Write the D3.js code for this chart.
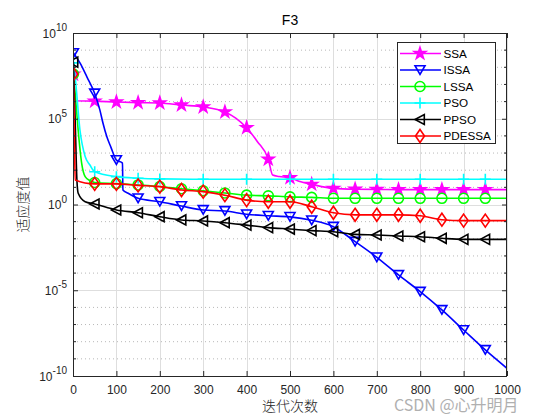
<!DOCTYPE html>
<html><head><meta charset="utf-8">
<script src="https://cdn.jsdelivr.net/npm/d3@7"></script>
<style>body{margin:0;background:#fff}svg{display:block}</style>
</head><body><svg id="c" width="560" height="420"></svg>
<script>
// ---- data (iteration, fitness) ----
const title = "F3";
const xLabel = "迭代次数";
const yLabel = "适应度值";
const seriesNames = ["SSA","ISSA","LSSA","PSO","PPSO","PDESSA"];
const xTickValues = [0,100,200,300,400,500,600,700,800,900,1000];
const yTickValues = [1e-10,1e-5,1,1e5,1e10];
const yTickExp = ["-10","-5","0","5","10"];
const markerIters = [1,50,100,150,200,250,300,350,400,450,500,550,600,650,700,750,800,850,900,950];

const ssaIter = [1,3,50,100,150,200,250,300,350,375,400,425,450,460,475,500,525,550,600,650,700,750,800,850,900,950,1000];
const ssaVal  = [4.0e7,1.12e6,1.07e6,9.5e5,8.7e5,8.3e5,6.3e5,4.9e5,2.5e5,1.1e5,3.0e4,4.6e3,440,52,43,36,21,15,8.7,7.8,7.6,7.4,7.4,7.4,7.4,7.4,7.4];

const issaIter = [1,16,32,50,62,69,78,87,100,114,115,127,150,200,250,300,350,400,450,500,550,600,650,700,750,800,850,900,950,1000];
const issaVal  = [6.8e8,1.8e8,2.8e7,3.0e6,3.2e5,5.6e4,8.9e3,2.3e3,390,260,7.1,4.5,2.3,1.45,0.81,0.48,0.42,0.27,0.22,0.19,0.12,0.051,6.8e-3,8.3e-4,7.8e-5,8.3e-6,7.1e-7,4.8e-8,3.3e-9,2.8e-10];

const lssaIter = [1,5,12,20,28,39,50,100,150,200,250,300,350,400,450,500,550,600,650,700,750,800,850,900,950,1000];
const lssaVal  = [4.0e7,3.0e6,2.0e4,250,42,25,19,16.6,13.8,11.2,8.3,6.3,4.7,3.5,3.2,2.8,2.6,2.3,2.3,2.3,2.3,2.3,2.3,2.3,2.3,2.3];

const psoIter = [1,5,16,28,39,50,100,150,200,300,400,500,600,700,800,900,950,1000];
const psoVal  = [1.8e8,2.8e7,2.2e4,630,200,81,42,34,31,29.5,29.5,29.5,29.5,29.5,29.5,29.5,29.5,29.5];

const ppsoIter = [1,5,9,12,28,50,100,150,200,250,300,350,400,450,500,550,600,650,700,750,800,850,900,950,1000];
const ppsoVal  = [2.0e8,8.5e4,27,4.5,1.45,1.07,0.48,0.33,0.195,0.126,0.11,0.087,0.063,0.045,0.037,0.030,0.026,0.018,0.0166,0.0145,0.0132,0.0107,0.0093,0.0093,0.0093];

const pdessaIter = [1,3,5,50,100,150,200,250,300,350,400,450,500,550,600,650,700,750,800,850,900,950,1000];
const pdessaVal  = [4.0e7,2.2e4,27,16,16,13,11,7.0,5.6,3.5,1.8,1.45,1.45,0.74,0.33,0.25,0.25,0.25,0.22,0.13,0.115,0.115,0.115];

const seriesColors = ["#ff00ff","#0000ff","#00ff00","#00ffff","#000000","#ff0000"];
const seriesMarkers = ["star","tri-down","circle","plus","tri-left","diamond"];
const seriesData = [[ssaIter,ssaVal],[issaIter,issaVal],[lssaIter,lssaVal],[psoIter,psoVal],[ppsoIter,ppsoVal],[pdessaIter,pdessaVal]];

// ---- layout ----
const L=73,R=507,T=33,B=376;
const svg = d3.select("#c");
const x = d3.scaleLinear().domain([0,1000]).range([L,R]);
const y = d3.scaleLog().domain([1e-10,1e10]).range([B,T]);
const axisColor = "#262626";
const font = "'Liberation Sans', Arial, Helvetica, sans-serif";
const cjk = "'Noto Sans CJK SC', sans-serif";

// grid
const grid = svg.append("g");
const minorDec = d3.range(-10,11).filter(e=>e%5!==0).map(e=>Math.pow(10,e));
grid.selectAll(".mg").data(minorDec).join("line")
  .attr("x1",L).attr("x2",R).attr("y1",d=>y(d)).attr("y2",d=>y(d))
  .attr("stroke","#b8b8b8").attr("stroke-width",1).attr("stroke-dasharray","1,3");
grid.selectAll(".gy").data(yTickValues).join("line")
  .attr("x1",L).attr("x2",R).attr("y1",d=>Math.round(y(d))+0.5).attr("y2",d=>Math.round(y(d))+0.5)
  .attr("stroke","#dedede").attr("stroke-width",1);
grid.selectAll(".gx").data(xTickValues).join("line")
  .attr("x1",d=>Math.round(x(d))+0.5).attr("x2",d=>Math.round(x(d))+0.5).attr("y1",T).attr("y2",B)
  .attr("stroke","#dedede").attr("stroke-width",1);

// clip
svg.append("clipPath").attr("id","clip").append("rect").attr("x",L).attr("y",T).attr("width",R-L).attr("height",B-T);

function markerPath(type){
  switch(type){
    case "star": return d3.symbol(d3.symbolStar, 42)();
    case "tri-down": return "M-5,-4.3L5,-4.3L0,4.3Z";
    case "circle": return d3.symbol(d3.symbolCircle, Math.PI*25)();
    case "plus": return "M-5.5,0H5.5M0,-5.5V5.5";
    case "tri-left": return "M-5,0L4.3,-5L4.3,5Z";
    case "diamond": return "M0,-6.5L4.5,0L0,6.5L-4.5,0Z";
  }
}

const line = d3.line().x(d=>x(d[0])).y(d=>y(d[1])).curve(d3.curveMonotoneX);
const plot = svg.append("g").attr("clip-path","url(#clip)");
seriesData.forEach(([it,val],i)=>{
  const pts = it.map((t,k)=>[t,val[k]]);
  const g = plot.append("g");
  g.append("path").attr("d",line(pts)).attr("fill","none")
    .attr("stroke",seriesColors[i]).attr("stroke-width",1.6).attr("stroke-linejoin","round");
  const mk = pts.filter(p=>markerIters.includes(p[0]));
  g.selectAll("path.m").data(mk).join("path").attr("class","m")
    .attr("transform",d=>`translate(${x(d[0])},${y(d[1])})`)
    .attr("d",markerPath(seriesMarkers[i]))
    .attr("fill",seriesMarkers[i]==="star"?seriesColors[i]:"none")
    .attr("stroke",seriesColors[i]).attr("stroke-width",1.6).attr("stroke-linejoin","miter");
});

// axes
const ax = svg.append("g").attr("font-family",font);
ax.append("g").attr("transform",`translate(0,${B})`)
  .call(d3.axisBottom(x).tickValues(xTickValues).tickSize(-5).tickPadding(9).tickFormat(d3.format("d")))
  .call(g=>{g.select(".domain").remove();g.selectAll("line").attr("stroke",axisColor);
    g.selectAll("text").attr("font-size",12).attr("fill",axisColor).attr("font-family",font);});
ax.append("g").attr("transform",`translate(0,${T})`)
  .call(d3.axisTop(x).tickValues(xTickValues).tickSize(-5).tickFormat(""))
  .call(g=>{g.select(".domain").remove();g.selectAll("line").attr("stroke",axisColor);});
ax.append("g").attr("transform",`translate(${L},0)`)
  .call(d3.axisLeft(y).tickValues(yTickValues).tickSize(-5).tickFormat(""))
  .call(g=>{g.select(".domain").remove();g.selectAll("line").attr("stroke",axisColor);});
ax.append("g").attr("transform",`translate(${R},0)`)
  .call(d3.axisRight(y).tickValues(yTickValues).tickSize(-5).tickFormat(""))
  .call(g=>{g.select(".domain").remove();g.selectAll("line").attr("stroke",axisColor);});
// minor ticks
[[L,1],[R,-1]].forEach(([xx,s])=>{
  ax.selectAll(null).data(minorDec).join("line")
    .attr("x1",xx).attr("x2",xx+s*3).attr("y1",d=>y(d)).attr("y2",d=>y(d)).attr("stroke",axisColor);
});
// y tick labels
yTickValues.forEach((v,i)=>{
  const t = ax.append("text").attr("x",67).attr("y",y(v)+4.5).attr("text-anchor","end")
    .attr("fill",axisColor).attr("font-size",12).attr("font-family",font);
  t.append("tspan").text("10");
  t.append("tspan").attr("dy",-6.5).attr("font-size",10).text(yTickExp[i]);
});
// box
svg.append("rect").attr("x",L+0.5).attr("y",T+0.5).attr("width",R-L-1).attr("height",B-T)
  .attr("fill","none").attr("stroke",axisColor).attr("stroke-width",1);

// title & labels
svg.append("text").attr("x",(L+R)/2).attr("y",25).attr("text-anchor","middle")
  .attr("font-family",font).attr("font-size",14).attr("fill","#000").text(title);
svg.append("text").attr("x",(L+R)/2).attr("y",411).attr("text-anchor","middle")
  .attr("font-family",cjk).attr("font-weight",300).attr("font-size",14).attr("fill",axisColor).text(xLabel);
svg.append("text").attr("transform",`translate(28,${(T+B)/2}) rotate(-90)`).attr("text-anchor","middle")
  .attr("font-family",cjk).attr("font-weight",300).attr("font-size",14).attr("fill",axisColor).text(yLabel);

// legend
const lg = svg.append("g");
lg.append("rect").attr("x",397.5).attr("y",42.5).attr("width",98).attr("height",101)
  .attr("fill","#fff").attr("stroke",axisColor).attr("stroke-width",1);
seriesNames.forEach((n,i)=>{
  const yy = 53.5 + i*16.5;
  lg.append("line").attr("x1",400).attr("x2",441).attr("y1",yy).attr("y2",yy)
    .attr("stroke",seriesColors[i]).attr("stroke-width",1.6);
  lg.append("path").attr("transform",`translate(420,${yy})`).attr("d",markerPath(seriesMarkers[i]))
    .attr("fill",seriesMarkers[i]==="star"?seriesColors[i]:"none").attr("stroke",seriesColors[i]).attr("stroke-width",1.6);
  lg.append("text").attr("x",443.5).attr("y",yy+4.2).attr("font-family",font).attr("font-size",11.7)
    .attr("fill","#000").text(n);
});

// watermark
svg.append("text").attr("x",394).attr("y",411).attr("font-family",cjk).attr("font-size",16)
  .attr("fill","#b0b0b0").attr("stroke","#ffffff").attr("stroke-width",0.6).attr("paint-order","stroke")
  .text("CSDN @心升明月");
</script></body></html>
